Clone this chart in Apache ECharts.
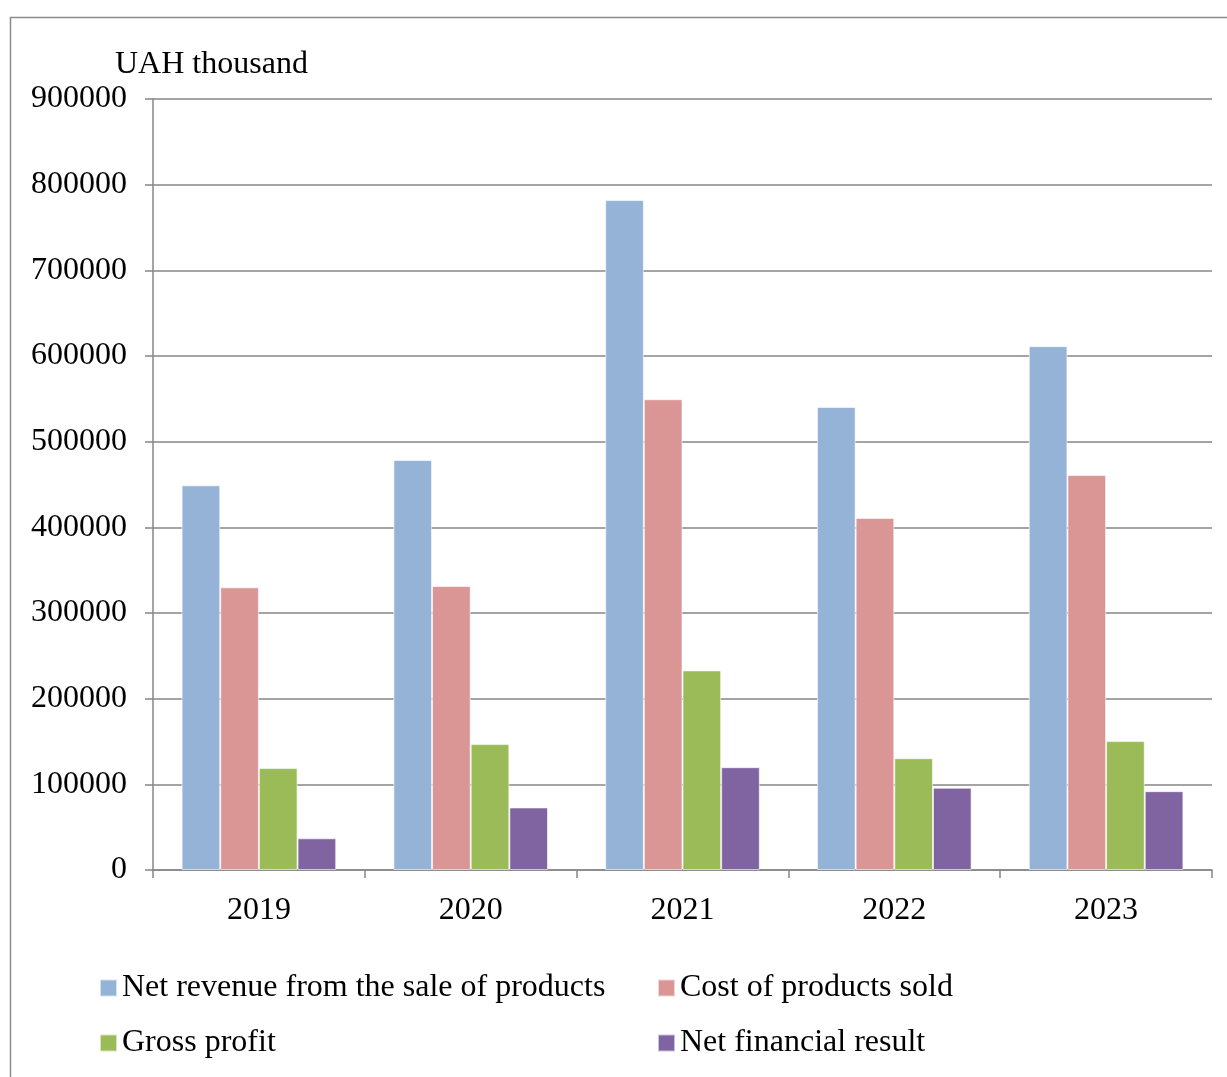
<!DOCTYPE html>
<html>
<head>
<meta charset="utf-8">
<script src="https://cdn.jsdelivr.net/npm/echarts@6/dist/echarts.min.js"></script>
<style>
  html, body { margin: 0; padding: 0; background: #ffffff; }
  #chart { width: 1227px; height: 1077px; }
</style>
</head>
<body>
<div id="chart"></div>
<script>
// Financial indicators, UAH thousand
const years = ['2019', '2020', '2021', '2022', '2023'];
const netRevenue = [449000, 478500, 782000, 540500, 611500];
const costOfSales = [330000, 331500, 549500, 411000, 461000];
const grossProfit = [119000, 147000, 233000, 130500, 150500];
const netResult = [37000, 73000, 120000, 96000, 92000];
const seriesNames = [
  'Net revenue from the sale of products',
  'Cost of products sold',
  'Gross profit',
  'Net financial result'
];
const seriesColors = ['#95B3D7', '#D99694', '#9BBB59', '#8064A2'];

const serif = '"Liberation Serif", "DejaVu Serif", serif';
const axisGray = '#868686';
const fontPx = 32;

const chart = echarts.init(document.getElementById('chart'));

function barSeries(i, values) {
  return {
    name: seriesNames[i],
    type: 'bar',
    data: values,
    barGap: '0%',
    barCategoryGap: '27%',
    itemStyle: { color: seriesColors[i], borderColor: 'rgba(255,255,255,0.6)', borderWidth: 1 }
  };
}

function legendColumn(names, left) {
  return {
    data: names,
    orient: 'vertical',
    left: left,
    top: 972,
    padding: 0,
    itemGap: 23,
    itemWidth: 17,
    itemHeight: 17,
    icon: 'rect',
    textStyle: { fontFamily: serif, fontSize: fontPx, lineHeight: 32, color: '#000000', padding: [0, 0, 0, 0] }
  };
}

chart.setOption({
  animation: false,
  backgroundColor: '#ffffff',
  textStyle: { fontFamily: serif },
  graphic: [
    {
      type: 'rect',
      shape: { x: 10.5, y: 17.5, width: 1230, height: 1080 },
      style: { fill: 'none', stroke: '#8c8c8c', lineWidth: 1.5 },
      silent: true
    },
    {
      type: 'text',
      left: 115,
      top: 49,
      style: { text: 'UAH thousand', font: fontPx + 'px ' + serif, fill: '#000000' }
    }
  ],
  grid: { left: 153, right: 15, top: 99, bottom: 207, containLabel: false },
  legend: [
    legendColumn([seriesNames[0], seriesNames[2]], 99),
    legendColumn([seriesNames[1], seriesNames[3]], 657)
  ],
  xAxis: {
    type: 'category',
    data: years,
    axisLine: { lineStyle: { color: axisGray, width: 1.5 } },
    axisTick: { show: true, length: 8, alignWithLabel: false, lineStyle: { color: axisGray, width: 1.5 } },
    axisLabel: { fontFamily: serif, fontSize: fontPx, color: '#000000', margin: 25 }
  },
  yAxis: {
    type: 'value',
    min: 0,
    max: 900000,
    interval: 100000,
    axisLine: { show: true, lineStyle: { color: axisGray, width: 1.5 } },
    axisTick: { show: true, inside: false, length: 8, lineStyle: { color: axisGray, width: 1.5 } },
    axisLabel: {
      fontFamily: serif, fontSize: fontPx, color: '#000000', margin: 26,
      padding: [6, 0, 0, 0],
      formatter: function (v) { return String(v); }
    },
    splitLine: { show: true, lineStyle: { color: axisGray, width: 1.5 } }
  },
  series: [
    barSeries(0, netRevenue),
    barSeries(1, costOfSales),
    barSeries(2, grossProfit),
    barSeries(3, netResult)
  ]
});
</script>
</body>
</html>
